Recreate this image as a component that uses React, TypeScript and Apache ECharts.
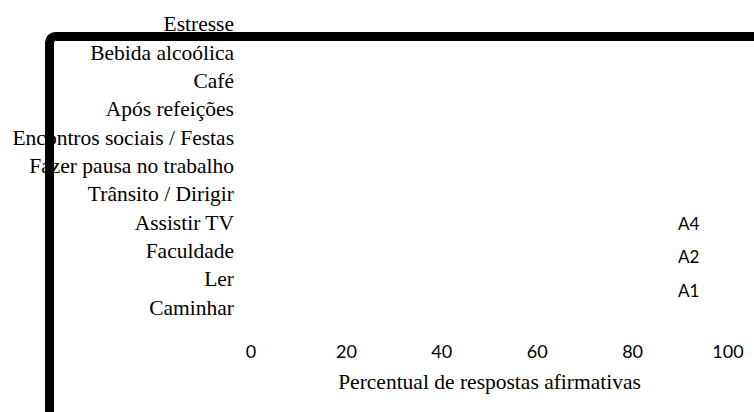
import React, { useEffect, useRef } from "react";
import * as echarts from "echarts";

const categories = [
  "Estresse",
  "Bebida alcoólica",
  "Café",
  "Após refeições",
  "Encontros sociais / Festas",
  "Fazer pausa no trabalho",
  "Trânsito / Dirigir",
  "Assistir TV",
  "Faculdade",
  "Ler",
  "Caminhar",
];

// No bars are visible in the reference picture: values unknown.
const seriesA1: (number | null)[] = [null, null, null, null, null, null, null, null, null, null, null];
const seriesA2: (number | null)[] = [null, null, null, null, null, null, null, null, null, null, null];
const seriesA4: (number | null)[] = [null, null, null, null, null, null, null, null, null, null, null];

const legendNames = ["A4", "A2", "A1"];
const xTicks = [0, 20, 40, 60, 80, 100];
const xAxisName = "Percentual de respostas afirmativas";

const SERIF = "'Liberation Serif', 'Times New Roman', serif";
const SANS = "Lato, 'Liberation Sans', sans-serif";

export default function App() {
  const ref = useRef<HTMLDivElement>(null);
  useEffect(() => {
    if (!ref.current) return;
    const chart = echarts.init(ref.current, undefined, { renderer: "svg" });
    chart.setOption({
      animation: false,
      backgroundColor: "#ffffff",
      grid: { left: 251, right: 26, top: 10, bottom: 90, containLabel: false },
      legend: {
        orient: "vertical",
        left: 668,
        top: 208,
        icon: "none",
        itemWidth: 0,
        itemHeight: 20,
        itemGap: 15,
        data: legendNames,
        textStyle: { fontFamily: SANS, fontSize: 17, color: "#000" },
      },
      xAxis: {
        type: "value",
        min: xTicks[0],
        max: xTicks[xTicks.length - 1],
        interval: 20,
        axisLine: { show: false },
        axisTick: { show: false },
        splitLine: { show: false },
        axisLabel: { margin: 20, fontFamily: SANS, fontSize: 18, color: "#000" },
        name: xAxisName,
        nameLocation: "middle",
        nameGap: 49,
        nameTextStyle: { fontFamily: SERIF, fontSize: 21.5, color: "#000" },
      },
      yAxis: {
        type: "category",
        inverse: true,
        data: categories,
        axisLine: { show: false },
        axisTick: { show: false },
        splitLine: { show: false },
        axisLabel: { interval: 0, margin: 17, fontFamily: SERIF, fontSize: 21.5, color: "#000" },
      },
      series: [
        { name: "A1", type: "bar", data: seriesA1 },
        { name: "A2", type: "bar", data: seriesA2 },
        { name: "A4", type: "bar", data: seriesA4 },
      ],
      graphic: [
        {
          type: "rect",
          z: 100,
          shape: { x: 49.5, y: 36.5, width: 900, height: 600, r: 6 },
          style: { fill: "none", stroke: "#000", lineWidth: 9 },
        },
      ],
    });
    return () => chart.dispose();
  }, []);
  return <div ref={ref} style={{ width: 754, height: 412, position: "absolute", left: 0, top: 0 }} />;
}
